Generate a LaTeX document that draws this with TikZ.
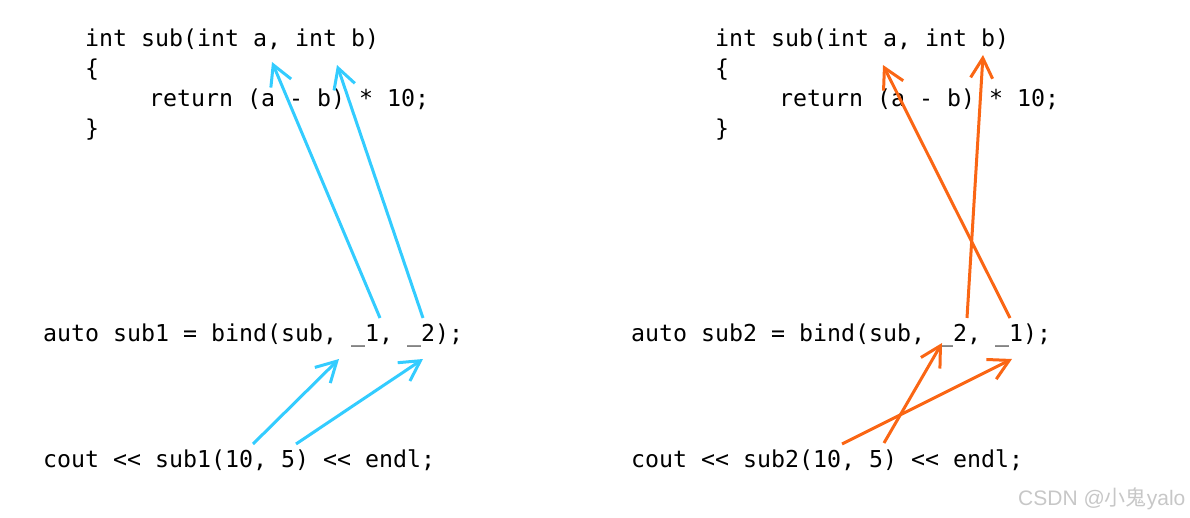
\documentclass[tikz,border=0pt]{standalone}
\usepackage{fontspec}
\usepackage{tikz}
\usetikzlibrary{arrows.meta}
\newfontfamily\codefont{DejaVu Sans Mono}
\newfontfamily\markfont{Liberation Sans}
\newfontfamily\cjk{Noto Sans CJK SC}
\definecolor{bindblue}{RGB}{51,204,255}
\definecolor{bindorange}{RGB}{250,102,20}

\begin{document}
\begin{tikzpicture}[x=1pt, y=-1pt,
    every node/.style={inner sep=0, anchor=base west, font=\codefont\fontsize{23.25}{30}\selectfont},
    link/.style={line width=3pt, -{Straight Barb[length=20pt, width=22pt, line width=3pt]}}]
    \useasboundingbox (0, 0) rectangle (1190, 518);

    % left: sub1
    \node (f1) at (85, 47) {int sub(int a, int b)};
    \node (o1) at (85, 77) {\{};
    \node (r1) at (93, 107) {\ \ \ \ return (a - b) * 10;};
    \node (c1) at (85, 137) {\}};
    \node (b1) at (43, 341) {auto sub1 = bind(sub, \_1, \_2);};
    \node (u1) at (43, 467) {cout << sub1(10, 5) << endl;};

    % right: sub2
    \node (f2) at (715, 47) {int sub(int a, int b)};
    \node (o2) at (715, 77) {\{};
    \node (r2) at (723, 107) {\ \ \ \ return (a - b) * 10;};
    \node (c2) at (715, 137) {\}};
    \node (b2) at (631, 341) {auto sub2 = bind(sub, \_2, \_1);};
    \node (u2) at (631, 467) {cout << sub2(10, 5) << endl;};

    % arrow ends
    \coordinate (pa1) at (272, 62);
    \coordinate (pb1) at (337, 65);
    \coordinate (q11) at (380, 318);
    \coordinate (q21) at (423, 318);
    \coordinate (s11) at (339, 359);
    \coordinate (s21) at (423, 359);
    \coordinate (v11) at (253, 444);
    \coordinate (v21) at (296, 444);

    \coordinate (pa2) at (883, 65);
    \coordinate (pb2) at (983, 55);
    \coordinate (q12) at (1010, 318);
    \coordinate (q22) at (967, 318);
    \coordinate (s22) at (942, 343);
    \coordinate (s12) at (1012, 359);
    \coordinate (v12) at (842, 444);
    \coordinate (v22) at (884, 443);

    \draw [link, bindblue] (q11) -- (pa1);
    \draw [link, bindblue] (q21) -- (pb1);
    \draw [link, bindblue] (v11) -- (s11);
    \draw [link, bindblue] (v21) -- (s21);

    \draw [link, bindorange] (q12) -- (pa2);
    \draw [link, bindorange] (q22) -- (pb2);
    \draw [link, bindorange] (v22) -- (s22);
    \draw [link, bindorange] (v12) -- (s12);

    \node [font=\markfont\fontsize{21}{24}\selectfont, text=black!22] (mark) at (1018, 505) {CSDN @{\cjk 小鬼}yalo};
  \end{tikzpicture}
\end{document}
